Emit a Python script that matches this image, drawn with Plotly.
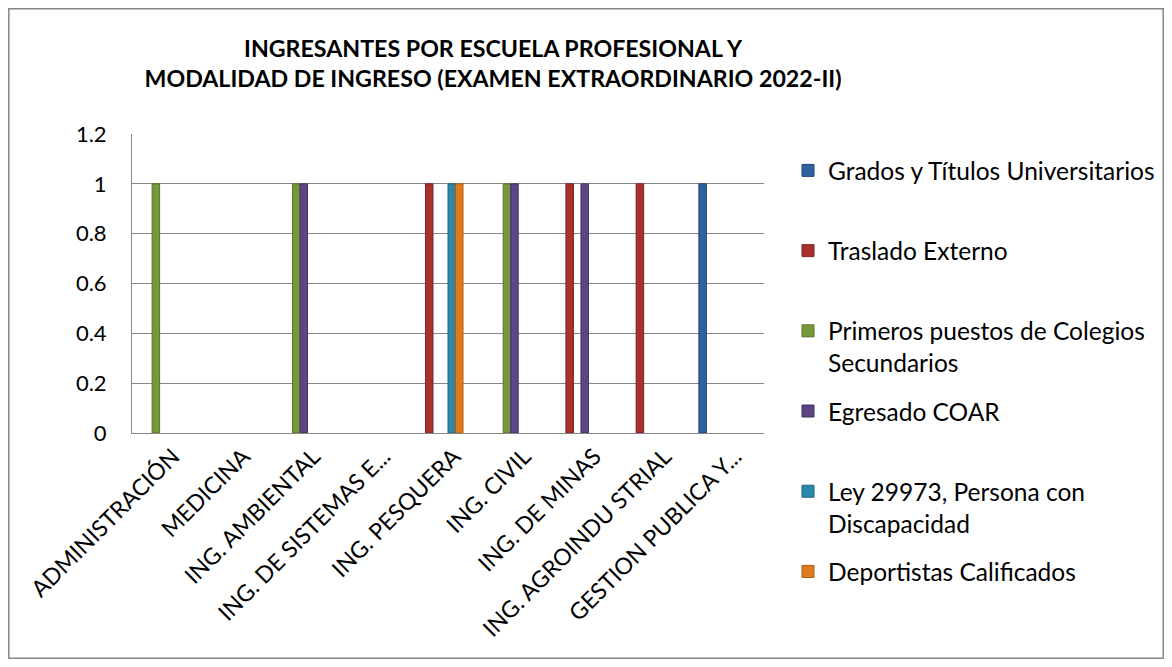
import plotly.graph_objects as go

categories = ["ADMINISTRACIÓN", "MEDICINA", "ING. AMBIENTAL", "ING. DE SISTEMAS E...",
              "ING. PESQUERA", "ING. CIVIL", "ING. DE MINAS", "ING. AGROINDU STRIAL",
              "GESTION PUBLICA Y..."]

grados = [None, None, None, None, None, None, None, None, 1]
traslado = [None, None, None, None, 1, None, 1, 1, None]
primeros = [1, None, 1, None, None, 1, None, None, None]
coar = [None, None, 1, None, None, 1, 1, None, None]
ley = [None, None, None, None, 1, None, None, None, None]
deportistas = [None, None, None, None, 1, None, None, None, None]
empty_a = [None] * 9
empty_b = [None] * 9

series_names = ["Grados y Títulos Universitarios", "Traslado Externo",
                "Primeros puestos de Colegios<br>Secundarios", "Egresado COAR",
                "Ley 29973, Persona con<br>Discapacidad", "Deportistas Calificados"]
series_values = [grados, traslado, primeros, coar, ley, deportistas]
colors = ["#2E619E", "#A8302D", "#76983A", "#5E4584", "#2A89A8", "#E07A1E"]
edge = ["#1F4677", "#7E2220", "#57722A", "#443262", "#1D6780", "#B05A12"]

FONT = "Lato"
fig = go.Figure()
for name, vals, c, e in zip(series_names, series_values, colors, edge):
    label = name if "<br>" in name else name + "<br> "
    fig.add_trace(go.Bar(x=categories, y=vals, name=label, legendgroup=name,
                         marker=dict(color=c, line=dict(color=e, width=1))))
for vals in (empty_a, empty_b):
    fig.add_trace(go.Bar(x=categories, y=vals, showlegend=False, hoverinfo="skip"))

OFF = 8  # browser body margin
W, H = 1172 - 2 * OFF, 667 - 2 * OFF
L, R, T, B = 132 - OFF, 764 - OFF, 134 - OFF, 433 - OFF
pw, ph = R - L, B - T

def px(x):
    return (x - OFF - L) / pw

def py(y):
    return (B - (y - OFF)) / ph

fig.update_layout(
    width=W, height=H,
    margin=dict(l=L, r=W - R, t=T, b=H - B, pad=0, autoexpand=False),
    paper_bgcolor="white", plot_bgcolor="white",
    font=dict(family=FONT, size=22, color="#000000"),
    barmode="group", bargap=0.145, bargroupgap=0,
    title=dict(text="<b>INGRESANTES POR ESCUELA PROFESIONAL Y<br>MODALIDAD DE INGRESO (EXAMEN EXTRAORDINARIO 2022-II)</b>",
               x=(493 - OFF) / W, xanchor="center", y=1 - (57 - OFF) / H, yanchor="middle",
               font=dict(family=FONT, size=23.2, color="#000000")),
    legend=dict(x=px(788), xanchor="left", y=py(148), yanchor="top",
                font=dict(family=FONT, size=24.5, color="#000000"),
                tracegroupgap=13.5, valign="top", bgcolor="rgba(0,0,0,0)",
                itemwidth=30, maxheight=2000),
    showlegend=True,
)
fig.update_xaxes(showgrid=False, showline=True, linecolor="#868686", linewidth=1,
                 tickangle=-45, ticks="", tickfont=dict(family=FONT, size=23),
                 ticklabelshift=6, mirror=False)
fig.update_yaxes(range=[0, 1.2], dtick=0.2, tick0=0, showgrid=True, gridcolor="#868686",
                 gridwidth=1, showline=True, linecolor="#868686", linewidth=1,
                 zeroline=False, ticks="", ticklabelstandoff=20,
                 tickfont=dict(family=FONT, size=22))

fig.add_shape(type="rect", xref="paper", yref="paper",
              x0=px(8.8), x1=px(1163.2), y0=py(658.2), y1=py(8.8),
              line=dict(color="#868686", width=1.5), fillcolor="rgba(0,0,0,0)",
              layer="below")

fig.write_html("out.html")
